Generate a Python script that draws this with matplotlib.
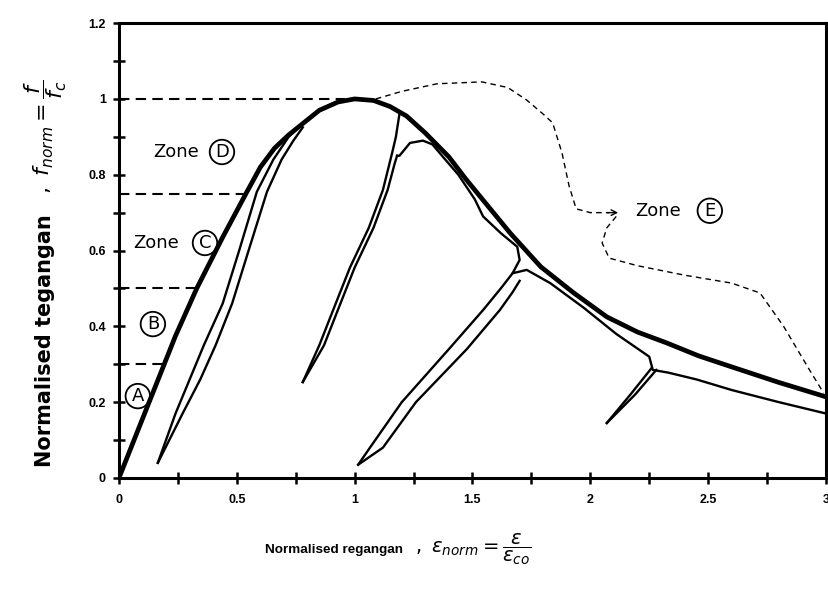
import matplotlib
matplotlib.use('Agg')
import matplotlib.pyplot as plt
import numpy as np

# Envelope (monotonic) stress-strain curve
env_x = [0, 0.08, 0.16, 0.24, 0.33, 0.44, 0.543, 0.60, 0.66, 0.72, 0.77, 0.85, 0.93, 1.0,
         1.08, 1.15, 1.22, 1.30, 1.40, 1.47, 1.545, 1.66, 1.79, 1.93, 2.07, 2.20,
         2.325, 2.46, 2.6, 2.8, 3.0]
env_y = [0, 0.125, 0.25, 0.375, 0.50, 0.635, 0.755, 0.82, 0.87, 0.905, 0.93, 0.97, 0.992, 1.0,
         0.996, 0.98, 0.955, 0.91, 0.847, 0.79, 0.733, 0.646, 0.557, 0.488, 0.425, 0.385,
         0.356, 0.322, 0.293, 0.252, 0.214]

# Unloading / reloading loops
loop1_un_x = [0.165, 0.24, 0.30, 0.36, 0.44, 0.51, 0.585, 0.655, 0.72, 0.77]
loop1_un_y = [0.04, 0.17, 0.26, 0.35, 0.46, 0.60, 0.755, 0.84, 0.90, 0.93]
loop1_re_x = [0.165, 0.27, 0.345, 0.41, 0.48, 0.55, 0.628, 0.69, 0.74, 0.78]
loop1_re_y = [0.04, 0.17, 0.26, 0.35, 0.46, 0.60, 0.755, 0.84, 0.89, 0.925]

loop2_un_x = [1.19, 1.175, 1.16, 1.12, 1.06, 0.98, 0.91, 0.85, 0.78]
loop2_un_y = [0.96, 0.90, 0.86, 0.76, 0.66, 0.555, 0.445, 0.35, 0.253]
loop2_re_x = [0.78, 0.87, 0.93, 1.00, 1.08, 1.14, 1.17, 1.18]
loop2_re_y = [0.253, 0.35, 0.445, 0.555, 0.66, 0.76, 0.83, 0.85]

loop3_un_x = [1.67, 1.62, 1.545, 1.40, 1.20, 1.065, 1.015]
loop3_un_y = [0.54, 0.50, 0.443, 0.34, 0.20, 0.08, 0.035]
loop3_re_x = [1.015, 1.12, 1.26, 1.476, 1.616, 1.67, 1.70]
loop3_re_y = [0.035, 0.08, 0.20, 0.34, 0.443, 0.49, 0.52]

loop4_un_x = [2.26, 2.17, 2.07]
loop4_un_y = [0.29, 0.22, 0.145]
loop4_re_x = [2.07, 2.19, 2.28]
loop4_re_y = [0.145, 0.22, 0.285]

# Common-point (stability) curve below the envelope
low_x = [1.18, 1.19, 1.235, 1.29, 1.33, 1.375, 1.44, 1.51, 1.545, 1.62, 1.69, 1.70,
         1.67, 1.73, 1.83, 1.97, 2.11, 2.25, 2.265, 2.33, 2.45, 2.6, 2.8, 3.0]
low_y = [0.85, 0.85, 0.884, 0.89, 0.88, 0.847, 0.80, 0.735, 0.69, 0.646, 0.61, 0.575,
         0.54, 0.549, 0.514, 0.45, 0.38, 0.32, 0.285, 0.278, 0.26, 0.232, 0.20, 0.17]

# Zone E boundary (dashed)
ze_top_x = [1.09, 1.2, 1.35, 1.54, 1.65, 1.73, 1.80, 1.84, 1.88, 1.91, 1.94, 2.0, 2.08]
ze_top_y = [1.0, 1.02, 1.04, 1.045, 1.03, 0.997, 0.96, 0.937, 0.857, 0.77, 0.71, 0.70, 0.70]
ze_bot_x = [2.11, 2.07, 2.05, 2.08, 2.2, 2.4, 2.6, 2.72, 2.82, 2.93, 2.99]
ze_bot_y = [0.69, 0.66, 0.62, 0.58, 0.56, 0.535, 0.514, 0.488, 0.40, 0.285, 0.224]

# Zone boundaries (horizontal dashed lines up to the envelope)
zone_levels = [0.3, 0.5, 0.75, 1.0]
zone_ends = [0.19, 0.33, 0.543, 0.96]

fig = plt.figure(figsize=(8.29, 5.93), dpi=100)
ax = fig.add_axes([0.1435, 0.194, 0.8529, 0.767])

ax.plot(env_x, env_y, color='k', lw=3.4, solid_joinstyle='round', zorder=5)
for xs, ys in [(loop1_un_x, loop1_un_y), (loop1_re_x, loop1_re_y),
               (loop2_un_x, loop2_un_y), (loop2_re_x, loop2_re_y),
               (loop3_un_x, loop3_un_y), (loop3_re_x, loop3_re_y),
               (loop4_un_x, loop4_un_y), (loop4_re_x, loop4_re_y)]:
    ax.plot(xs, ys, color='k', lw=1.7, zorder=4)
ax.plot(low_x, low_y, color='k', lw=1.7, zorder=4)

ax.plot(ze_top_x, ze_top_y, color='k', lw=1.0, ls=(0, (4, 3)))
ax.plot(ze_bot_x, ze_bot_y, color='k', lw=1.0, ls=(0, (4, 3)))
ax.annotate('', xy=(2.13, 0.70), xytext=(2.06, 0.70),
            arrowprops=dict(arrowstyle='->', lw=1.0, color='k'))

ax.hlines(zone_levels, 0, zone_ends, colors='k', lw=1.5, linestyles=(0, (5, 3)))

# Zone labels
txt = dict(fontsize=13, family='DejaVu Sans', va='center', color='k')
circ = dict(boxstyle='circle,pad=0.18', fc='none', ec='k', lw=1.3)
ax.text(0.145, 0.86, 'Zone', ha='left', **txt)
ax.text(0.437, 0.86, 'D', ha='center', bbox=circ, **txt)
ax.text(0.06, 0.62, 'Zone', ha='left', **txt)
ax.text(0.365, 0.62, 'C', ha='center', bbox=circ, **txt)
ax.text(0.144, 0.406, 'B', ha='center', bbox=circ, **txt)
ax.text(0.08, 0.216, 'A', ha='center', bbox=circ, **txt)
ax.text(2.19, 0.705, 'Zone', ha='left', **txt)
ax.text(2.507, 0.705, 'E', ha='center', bbox=circ, **txt)

ax.set_xlim(0, 3)
ax.set_ylim(0, 1.2)
ax.set_xticks(np.arange(0, 3.01, 0.5))
ax.set_xticklabels(['0', '0.5', '1', '1.5', '2', '2.5', '3'])
ax.set_xticks(np.arange(0, 3.01, 0.25), minor=True)
ax.set_yticks(np.arange(0, 1.21, 0.2))
ax.set_yticklabels(['0', '0.2', '0.4', '0.6', '0.8', '1', '1.2'])
ax.set_yticks(np.arange(0, 1.21, 0.1), minor=True)
ax.tick_params(which='both', direction='inout', length=9, width=1.8, color='k')
ax.tick_params(axis='x', pad=7)
ax.tick_params(axis='y', pad=5)
for lab in ax.get_xticklabels() + ax.get_yticklabels():
    lab.set_fontsize(9)
    lab.set_fontweight('bold')
    lab.set_family('Liberation Sans')
for sp in ax.spines.values():
    sp.set_linewidth(2.2)

# Axis titles: plain words plus a larger math part
ax.text(-0.105, 0.024, 'Normalised tegangan', transform=ax.transAxes, rotation=90,
        rotation_mode='anchor', ha='left', va='center', fontsize=15,
        fontweight='bold', family='DejaVu Sans')
ax.text(-0.103, 0.625, r'$,\ f_{norm} = \dfrac{f}{f_c}$', transform=ax.transAxes,
        rotation=90, rotation_mode='anchor', ha='left', va='center', fontsize=16)

ax.text(0.207, -0.165, 'Normalised regangan', transform=ax.transAxes,
        ha='left', va='baseline', fontsize=9.7, fontweight='bold', family='Liberation Sans')
ax.text(0.418, -0.165, r'$,\ \varepsilon_{norm} = \dfrac{\varepsilon}{\varepsilon_{co}}$',
        transform=ax.transAxes, ha='left', va='baseline', fontsize=14)

fig.savefig('out.png', dpi=100)
